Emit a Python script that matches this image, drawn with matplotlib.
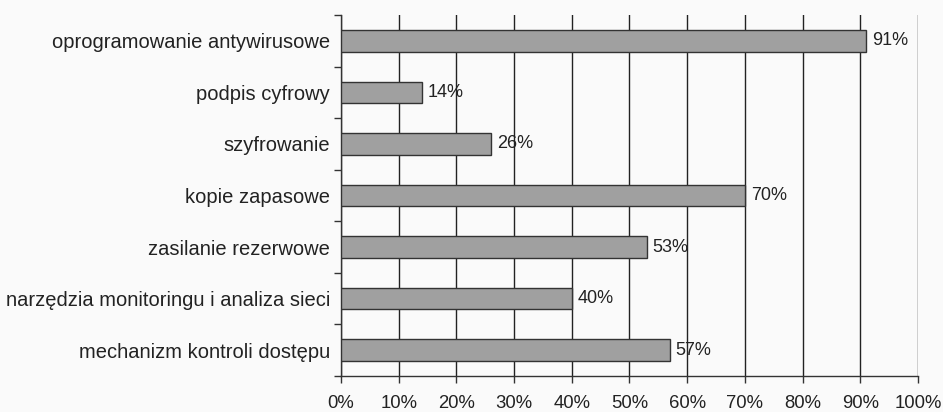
import matplotlib.pyplot as plt
import numpy as np
from matplotlib.ticker import FixedLocator, PercentFormatter

plt.rcParams['font.family'] = ['Liberation Sans', 'DejaVu Sans']

categories = ["oprogramowanie antywirusowe", "podpis cyfrowy", "szyfrowanie",
              "kopie zapasowe", "zasilanie rezerwowe",
              "narzędzia monitoringu i analiza sieci", "mechanizm kontroli dostępu"]
values = [91, 14, 26, 70, 53, 40, 57]

bg = "#fafafa"
fig = plt.figure(figsize=(9.43, 4.12), dpi=100, facecolor=bg)
ax = fig.add_axes([0.3616, 0.0874, 0.6119, 0.8762], facecolor=bg)

y = np.arange(len(categories))
ax.barh(y, values, height=0.42, color="#a0a0a0", edgecolor="#333333", linewidth=1.0, zorder=3)

for yi, v in zip(y, values):
    ax.text(v + 1.0, yi, f"{v}%", va="center", ha="left", fontsize=13, color="#222222", zorder=4)

ax.set_xlim(0, 100)
ax.set_ylim(len(categories) - 0.5, -0.5)
ax.set_xticks(np.arange(0, 101, 10))
ax.xaxis.set_major_formatter(PercentFormatter(decimals=0))
ax.set_yticks(y)
ax.set_yticklabels(categories)
ax.yaxis.set_minor_locator(FixedLocator(np.arange(-0.5, len(categories), 1)))

ax.tick_params(axis="y", which="major", length=0, pad=8, labelsize=14.5, labelcolor="#222222")
ax.tick_params(axis="y", which="minor", length=5, width=1, color="#333333")
ax.tick_params(axis="x", length=5, width=1, color="#333333", pad=9, labelsize=13.3, labelcolor="#222222")

ax.grid(axis="x", color="#222222", linewidth=1.0, zorder=1)
ax.set_axisbelow(True)
for side in ("top", "right"):
    ax.spines[side].set_visible(False)
for side in ("left", "bottom"):
    ax.spines[side].set_color("#333333")
    ax.spines[side].set_linewidth(1.0)

fig.savefig("out.png", dpi=100, facecolor=bg)
